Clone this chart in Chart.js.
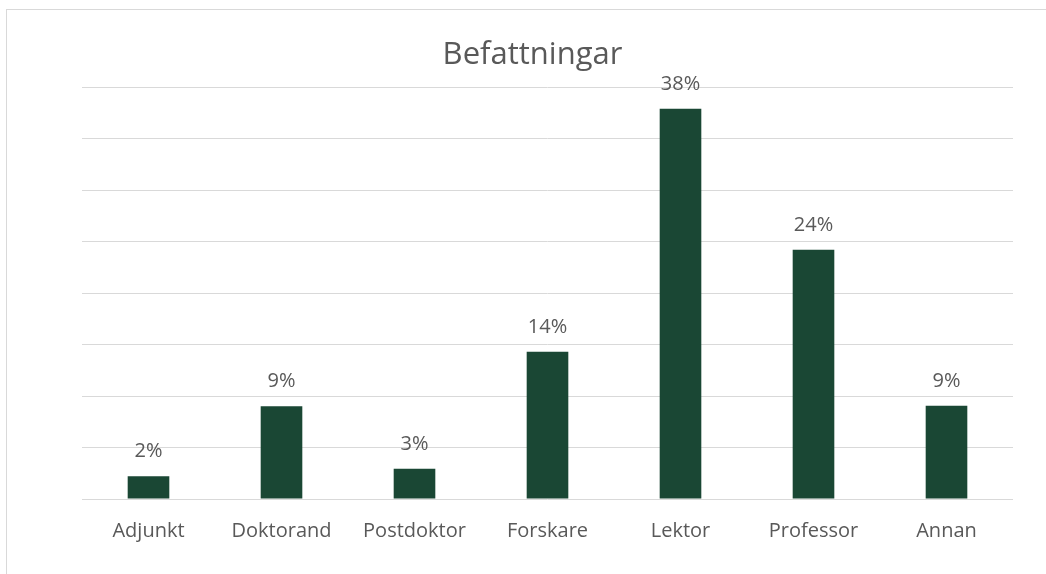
<!DOCTYPE html>
<html>
<head>
<meta charset="utf-8">
<script src="https://cdn.jsdelivr.net/npm/chart.js@4/dist/chart.umd.min.js"></script>
<style>
  html, body { margin: 0; padding: 0; background: #fff; overflow: hidden; }
  .wrap { position: relative; width: 1046px; height: 574px; }
  .frame { position: absolute; left: 6px; top: 9px; width: 1100px; height: 600px;
           border-left: 1px solid #d9d9d9; border-top: 1px solid #d9d9d9; pointer-events: none; }
</style>
</head>
<body>
<div class="wrap">
  <canvas id="myChart" width="1046" height="574"></canvas>
  <div class="frame"></div>
</div>
<script>
const categories = ['Adjunkt', 'Doktorand', 'Postdoktor', 'Forskare', 'Lektor', 'Professor', 'Annan'];
const shares = [2.2, 9.0, 2.95, 14.3, 37.9, 24.2, 9.05];
const yTicks = [0, 5, 10, 15, 20, 25, 30, 35, 40];

const textColor = '#595959';
const gridColor = '#d9d9d9';
const barColor = '#1a4734';

// draws the % above each bar
const valueLabels = {
  id: 'valueLabels',
  afterDatasetsDraw(chart) {
    const ctx = chart.ctx;
    const meta = chart.getDatasetMeta(0);
    ctx.save();
    ctx.font = '20px "Open Sans"';
    ctx.fillStyle = textColor;
    ctx.textAlign = 'center';
    ctx.textBaseline = 'alphabetic';
    meta.data.forEach((bar, i) => {
      ctx.fillText(Math.round(shares[i]) + '%', bar.x, bar.y - 19);
    });
    ctx.restore();
  }
};

const ctx = document.getElementById('myChart').getContext('2d');
new Chart(ctx, {
  type: 'bar',
  data: {
    labels: categories,
    datasets: [{
      label: 'Befattningar',
      data: shares,
      backgroundColor: barColor,
      borderWidth: 0,
      barPercentage: 0.313,
      categoryPercentage: 1
    }]
  },
  options: {
    responsive: false,
    animation: false,
    layout: { padding: { left: 52, right: 33, top: 0, bottom: 11 } },
    plugins: {
      legend: { display: false },
      tooltip: { enabled: false },
      title: {
        display: true,
        text: 'Befattningar',
        color: textColor,
        font: { family: 'Open Sans', size: 31, weight: 'normal' },
        padding: { top: 37, bottom: 13 }
      }
    },
    scales: {
      x: {
        grid: { display: false, drawTicks: false },
        border: { display: false },
        ticks: {
          color: textColor,
          font: { family: 'Open Sans', size: 20 },
          padding: 20,
          maxRotation: 0
        }
      },
      y: {
        min: yTicks[0],
        max: yTicks[yTicks.length - 1],
        afterBuildTicks(scale) { scale.ticks = yTicks.map(v => ({ value: v })); },
        afterFit(scale) { scale.width = 30; },
        grid: { color: gridColor, lineWidth: 1, drawTicks: false },
        border: { display: false },
        ticks: { display: false }
      }
    }
  },
  plugins: [valueLabels]
});
</script>
</body>
</html>
